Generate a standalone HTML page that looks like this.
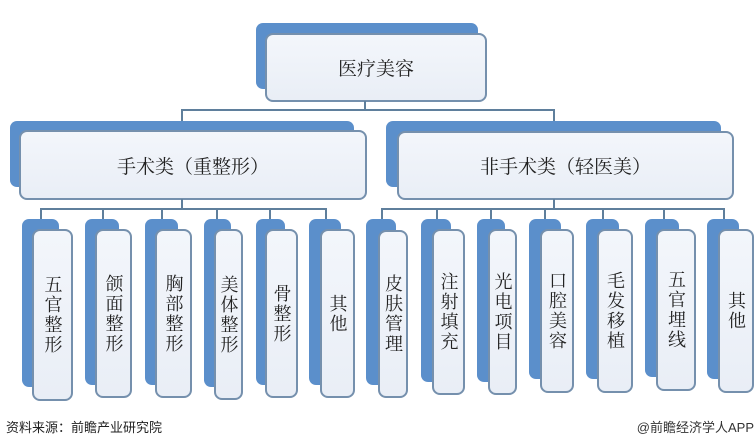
<!DOCTYPE html>
<html><head><meta charset="utf-8"><style>
body{margin:0;width:756px;height:446px;background:#fff;position:relative;overflow:hidden;font-family:"Liberation Sans","Noto Sans CJK SC",sans-serif;}
.b{position:absolute;background:#5b8fcb;border-radius:7px;}
.f{position:absolute;background:linear-gradient(#f3f6fb,#e9eef6);border:2px solid #7590ad;border-radius:8px;box-sizing:border-box;display:flex;align-items:center;justify-content:center;color:#222;font-family:"Liberation Serif","Noto Serif CJK SC",serif;}
.v{writing-mode:vertical-rl;font-size:18px;letter-spacing:2px;line-height:1;}
.l{position:absolute;background:#5f7f9c;}
.t{font-size:19px;}
</style></head><body>
<div class="b" style="left:256px;top:23px;width:222px;height:66px"></div>
<div class="f t" style="left:265px;top:33px;width:222px;height:69px">医疗美容</div>

<div class="l" style="left:364px;top:101px;width:2px;height:10px"></div>
<div class="l" style="left:181px;top:109px;width:374px;height:2px"></div>
<div class="l" style="left:181px;top:109px;width:2px;height:13px"></div>
<div class="l" style="left:553px;top:109px;width:2px;height:13px"></div>

<div class="b" style="left:10px;top:121px;width:344px;height:66px"></div>
<div class="f t" style="left:19px;top:130px;width:348px;height:70px">手术类（重整形）</div>
<div class="b" style="left:386px;top:121px;width:335px;height:66px"></div>
<div class="f t" style="left:397px;top:131px;width:337px;height:69px">非手术类（轻医美）</div>

<div class="l" style="left:181px;top:199px;width:2px;height:11px"></div>
<div class="l" style="left:40px;top:208px;width:287px;height:2px"></div>
<div class="l" style="left:40px;top:208px;width:2px;height:12px"></div>
<div class="l" style="left:102px;top:208px;width:2px;height:12px"></div>
<div class="l" style="left:161px;top:208px;width:2px;height:12px"></div>
<div class="l" style="left:216px;top:208px;width:2px;height:12px"></div>
<div class="l" style="left:269px;top:208px;width:2px;height:12px"></div>
<div class="l" style="left:325px;top:208px;width:2px;height:12px"></div>

<div class="l" style="left:553px;top:199px;width:2px;height:11px"></div>
<div class="l" style="left:381px;top:208px;width:344px;height:2px"></div>
<div class="l" style="left:381px;top:208px;width:2px;height:12px"></div>
<div class="l" style="left:436px;top:208px;width:2px;height:12px"></div>
<div class="l" style="left:490px;top:208px;width:2px;height:12px"></div>
<div class="l" style="left:544px;top:208px;width:2px;height:12px"></div>
<div class="l" style="left:602px;top:208px;width:2px;height:12px"></div>
<div class="l" style="left:663px;top:208px;width:2px;height:12px"></div>
<div class="l" style="left:723px;top:208px;width:2px;height:12px"></div>

<div class="b" style="left:22px;top:219px;width:37px;height:168px"></div>
<div class="f" style="left:32px;top:229px;width:41px;height:172px"><span class="v">五官整形</span></div>
<div class="b" style="left:85px;top:219px;width:34px;height:166px"></div>
<div class="f" style="left:95px;top:229px;width:37px;height:169px"><span class="v">颌面整形</span></div>
<div class="b" style="left:145px;top:219px;width:33px;height:166px"></div>
<div class="f" style="left:155px;top:229px;width:37px;height:169px"><span class="v">胸部整形</span></div>
<div class="b" style="left:204px;top:219px;width:27px;height:168px"></div>
<div class="f" style="left:214px;top:229px;width:29px;height:171px"><span class="v">美体整形</span></div>
<div class="b" style="left:256px;top:219px;width:29px;height:166px"></div>
<div class="f" style="left:265px;top:229px;width:33px;height:169px"><span class="v">骨整形</span></div>
<div class="b" style="left:309px;top:219px;width:32px;height:166px"></div>
<div class="f" style="left:320px;top:229px;width:35px;height:169px"><span class="v">其他</span></div>

<div class="b" style="left:366px;top:219px;width:30px;height:166px"></div>
<div class="f" style="left:378px;top:230px;width:30px;height:168px"><span class="v">皮肤管理</span></div>
<div class="b" style="left:421px;top:219px;width:30px;height:163px"></div>
<div class="f" style="left:432px;top:229px;width:33px;height:166px"><span class="v">注射填充</span></div>
<div class="b" style="left:477px;top:219px;width:28px;height:163px"></div>
<div class="f" style="left:488px;top:229px;width:29px;height:166px"><span class="v">光电项目</span></div>
<div class="b" style="left:529px;top:219px;width:32px;height:160px"></div>
<div class="f" style="left:540px;top:229px;width:34px;height:164px"><span class="v">口腔美容</span></div>
<div class="b" style="left:586px;top:219px;width:33px;height:160px"></div>
<div class="f" style="left:597px;top:229px;width:36px;height:164px"><span class="v">毛发移植</span></div>
<div class="b" style="left:645px;top:219px;width:34px;height:158px"></div>
<div class="f" style="left:656px;top:229px;width:40px;height:162px"><span class="v">五官埋线</span></div>
<div class="b" style="left:707px;top:219px;width:32px;height:160px"></div>
<div class="f" style="left:718px;top:229px;width:36px;height:164px"><span class="v">其他</span></div>

<div style="position:absolute;left:6px;top:417px;font-size:13px;color:#222">资料来源：前瞻产业研究院</div>
<div style="position:absolute;right:2px;top:417px;font-size:13px;color:#333">@前瞻经济学人APP</div>
</body></html>
